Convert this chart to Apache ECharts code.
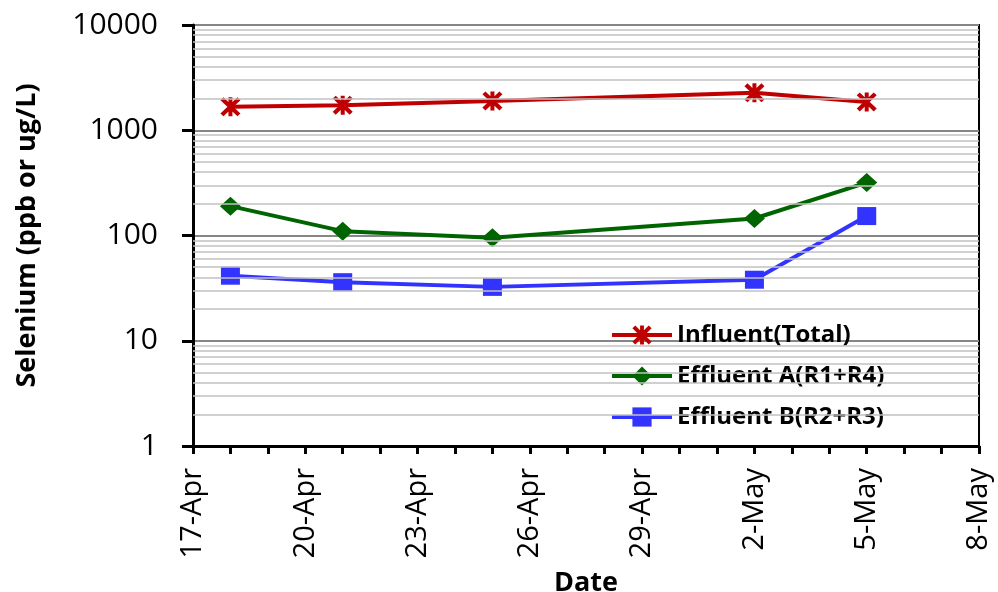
<!DOCTYPE html>
<html>
<head>
<meta charset="utf-8">
<script src="https://cdn.jsdelivr.net/npm/echarts@6/dist/echarts.min.js"></script>
<style>
    html, body { margin: 0; padding: 0; background: #fff; }
    #chart { width: 998px; height: 592px; }
</style>
</head>
<body>
<div id="chart"></div>
<script>
// sampling dates
const dates = ['18-Apr', '21-Apr', '25-Apr', '2-May', '5-May']
// selenium, ppb
const influent  = [1670, 1730, 1900, 2270, 1860]
const effluentA = [190, 110, 95, 145, 318]
const effluentB = [41.5, 36, 32.5, 38, 153]
// minor grid values between the decades
const minorGrid = [2, 3, 4, 5, 6, 7, 8, 9, 20, 30, 40, 50, 60, 70, 80, 90,
    200, 300, 400, 500, 600, 700, 800, 900, 2000, 3000, 4000, 5000, 6000, 7000, 8000, 9000]

const months = ['Jan', 'Feb', 'Mar', 'Apr', 'May', 'Jun', 'Jul', 'Aug', 'Sep', 'Oct', 'Nov', 'Dec']
const DAY = 86400000
const startDay = Date.UTC(2000, 3, 17) // 17-Apr, left end of axis

// '18-Apr' -> days after 17-Apr
const toDay = (s) => {
    let p = s.split('-')
    return (Date.UTC(2000, months.indexOf(p[1]), +p[0]) - startDay) / DAY
}
const dayLabel = (v) => {
    let d = new Date(startDay + v * DAY)
    return d.getUTCDate() + '-' + months[d.getUTCMonth()]
}

const pairs = (vals) => vals.map((v, i) => [toDay(dates[i]), v])

// excel style star: X plus vertical bar
const starPath = 'path://M8,0L12,0L12,20L8,20Z M0,3L3,0L20,17L17,20Z M17,0L20,3L3,20L0,17Z'

let chart = echarts.init(document.getElementById('chart'))

let legendItem = (name) => ({ name: name, lineStyle: { width: 4 } })

let options = {
    animation: false,
    grid: {
        left: 193, right: 19, top: 25, bottom: 146,
        outerBoundsMode: 'none',
        show: true, borderColor: '#000', borderWidth: 2
    },
    legend: {
        orient: 'vertical',
        left: 605, top: 318,
        itemWidth: 60, itemHeight: 24, itemGap: 17,
        data: ['Influent(Total)', 'Effluent A(R1+R4)', 'Effluent B(R2+R3)'].map(legendItem),
        lineStyle: { width: 4 },
        textStyle: { fontFamily: 'Open Sans', fontWeight: 'bold', fontSize: 24, color: '#000', lineHeight: 24 }
    },
    xAxis: {
        type: 'value', min: 0, max: 21, interval: 3,
        name: 'Date', nameLocation: 'middle', nameGap: 124,
        nameTextStyle: { fontFamily: 'Open Sans', fontWeight: 'bold', fontSize: 27, color: '#000' },
        axisLine: { lineStyle: { color: '#000', width: 3 } },
        axisTick: { length: 8, lineStyle: { color: '#000', width: 3 } },
        minorTick: { show: true, splitNumber: 3, length: 8, lineStyle: { color: '#000', width: 3 } },
        axisLabel: {
            rotate: 90, margin: 22, formatter: dayLabel,
            fontFamily: 'Open Sans', fontSize: 29, color: '#000'
        },
        splitLine: { show: false }
    },
    yAxis: {
        type: 'log', logBase: 10, min: 1, max: 10000,
        name: 'Selenium (ppb or ug/L)', nameLocation: 'middle', nameGap: 152,
        nameTextStyle: { fontFamily: 'Open Sans', fontWeight: 'bold', fontSize: 27, color: '#000' },
        axisLine: { lineStyle: { color: '#000', width: 3 } },
        axisTick: { length: 11, lineStyle: { color: '#000', width: 3 } },
        axisLabel: {
            margin: 35, formatter: (v) => String(Math.round(v)),
            fontFamily: 'Open Sans', fontSize: 30, color: '#000'
        },
        splitLine: { lineStyle: { color: '#868686', width: 2 } }
    },
    series: [
        {
            name: 'grid', type: 'line', data: [], z: 1, silent: true,
            markLine: {
                silent: true, symbol: 'none', label: { show: false },
                lineStyle: { color: '#c0c0c0', width: 1.5, type: 'solid' },
                emphasis: { disabled: true },
                data: minorGrid.map(v => ({ yAxis: v }))
            }
        },
        {
            name: 'Influent(Total)', type: 'line', z: 3,
            data: pairs(influent),
            symbol: starPath, symbolSize: [20, 19],
            itemStyle: { color: '#C00000' },
            lineStyle: { color: '#C00000', width: 4 }
        },
        {
            name: 'Effluent A(R1+R4)', type: 'line', z: 3,
            data: pairs(effluentA),
            symbol: 'diamond', symbolSize: [21, 19],
            itemStyle: { color: '#006400' },
            lineStyle: { color: '#006400', width: 4 }
        },
        {
            name: 'Effluent B(R2+R3)', type: 'line', z: 3,
            data: pairs(effluentB),
            symbol: 'rect', symbolSize: [19, 18],
            itemStyle: { color: '#3333FF' },
            lineStyle: { color: '#3333FF', width: 4 }
        }
    ]
}

chart.setOption(options)
</script>
</body>
</html>
